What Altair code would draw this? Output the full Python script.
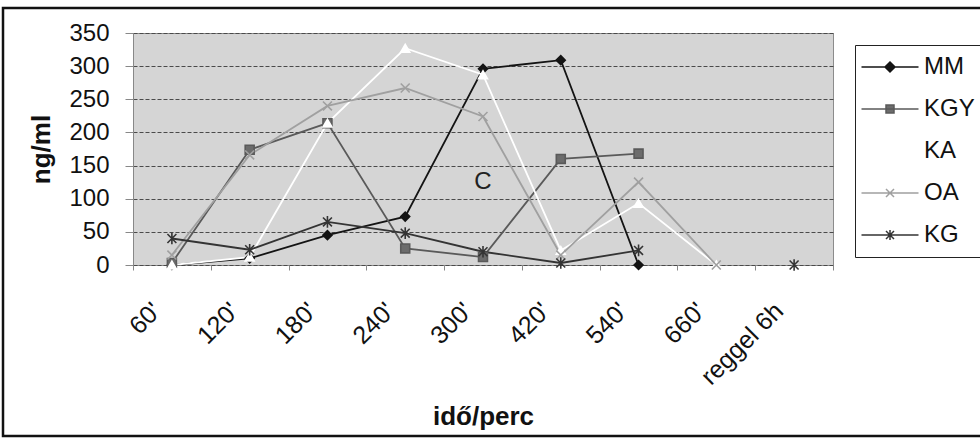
import altair as alt
import pandas as pd

categories = ["60'", "120'", "180'", "240'", "300'", "420'", "540'", "660'", "reggel 6h"]
series_names = ["MM", "KGY", "KA", "OA", "KG"]
mm = [0, 10, 45, 73, 296, 309, 0, None, None]
kgy = [3, 174, 214, 25, 12, 160, 168, None, None]
ka = [0, 12, 214, 327, 287, 22, 93, 0, None]
oa = [15, 166, 240, 267, 224, 15, 125, 0, None]
kg = [40, 23, 65, 48, 20, 3, 22, None, 0]
y_ticks = [0, 50, 100, 150, 200, 250, 300, 350]
annotation_text = ["C"]
annotation_cat = ["300'"]
annotation_val = [125]

line_colors = ["#141414", "#5a5a5a", "#ffffff", "#a0a0a0", "#343434"]
marker_fills = ["#141414", "#6c6c6c", "#ffffff", "transparent", "transparent"]
marker_shapes = [
    "diamond",
    "square",
    "triangle-up",
    "M-1,-1L1,1M-1,1L1,-1",
    "M-1,-1L1,1M-1,1L1,-1M0,-1.3L0,1.3",
]
legend_shapes = [
    "M-5.7,0L5.7,0M0,-1L1,0L0,1L-1,0Z",
    "M-5.7,0L5.7,0M-0.8,-0.8L0.8,-0.8L0.8,0.8L-0.8,0.8Z",
    "M-5.7,0L5.7,0M0,-1L1,0.8L-1,0.8Z",
    "M-5.7,0L5.7,0M-0.8,-0.8L0.8,0.8M-0.8,0.8L0.8,-0.8",
    "M-5.7,0L5.7,0M-0.8,-0.8L0.8,0.8M-0.8,0.8L0.8,-0.8M0,-1L0,1",
]

rows = []
for name, vals in zip(series_names, [mm, kgy, ka, oa, kg]):
    seg = 0
    for c, v in zip(categories, vals):
        if v is None:
            seg += 1
            continue
        rows.append({"series": name, "cat": c, "value": v, "seg": f"{name}-{seg}"})
df = pd.DataFrame(rows)
ann = pd.DataFrame({"t": annotation_text, "cat": annotation_cat, "value": annotation_val})

FONT = "Liberation Sans"

x_enc = alt.X(
    "cat:N",
    sort=categories,
    scale=alt.Scale(type="band", domain=categories, paddingInner=0, paddingOuter=0),
    axis=alt.Axis(
        title="idő/perc",
        labelAngle=-45,
        labelFontSize=25,
        labelColor="#111",
        labelOffset=-24,
        labelPadding=28,
        tickBand="extent",
        tickSize=5,
        tickColor="#888",
        domain=False,
        grid=False,
        titleFontSize=26,
        titleFontWeight="bold",
        titleColor="#111",
        titlePadding=14,
    ),
)
y_enc = alt.Y(
    "value:Q",
    scale=alt.Scale(domain=[0, 350], nice=False, zero=True),
    axis=alt.Axis(
        title="ng/ml",
        values=y_ticks,
        labelFontSize=24,
        labelColor="#111",
        tickSize=8,
        tickColor="#888",
        domainColor="#888",
        grid=True,
        gridColor="#4a4a4a",
        gridDash=[4, 2],
        gridWidth=1,
        labelPadding=16,
        titleFontSize=26,
        titleFontWeight="bold",
        titleColor="#111",
        titlePadding=14,
    ),
)

lines = alt.Chart(df).mark_line(strokeWidth=1.8).encode(
    x=x_enc,
    y=y_enc,
    color=alt.Color("series:N", scale=alt.Scale(domain=series_names, range=line_colors), legend=None),
    detail="seg:N",
)

points = alt.Chart(df).mark_point(filled=False, size=80, strokeWidth=1.6, opacity=1).encode(
    x=x_enc,
    y=y_enc,
    shape=alt.Shape("series:N", scale=alt.Scale(domain=series_names, range=marker_shapes), legend=None),
    stroke=alt.Stroke("series:N", scale=alt.Scale(domain=series_names, range=line_colors), legend=None),
    fill=alt.Fill("series:N", scale=alt.Scale(domain=series_names, range=marker_fills), legend=None),
)

legend_layer = (
    alt.Chart(df)
    .transform_filter("datum.value < -1000")
    .mark_point(filled=False, size=100, strokeWidth=1.5, opacity=1)
    .encode(
        x=x_enc,
        y=y_enc,
        shape=alt.Shape("series:N", scale=alt.Scale(domain=series_names, range=legend_shapes),
                        legend=alt.Legend(title=None)),
        stroke=alt.Stroke("series:N", scale=alt.Scale(domain=series_names, range=line_colors),
                          legend=alt.Legend(title=None)),
        fill=alt.Fill("series:N", scale=alt.Scale(domain=series_names, range=marker_fills),
                      legend=alt.Legend(title=None)),
    )
)

text_layer = alt.Chart(ann).mark_text(fontSize=24, color="#222", font=FONT).encode(
    x=x_enc, y=y_enc, text="t:N"
)

frame = alt.Chart(pd.DataFrame({"k": [0]})).mark_rect(
    fillOpacity=0, stroke="#111", strokeWidth=2.5
).encode(
    x=alt.value(-130), x2=alt.value(870), y=alt.value(-25), y2=alt.value(403)
)

chart = (
    alt.layer(lines, points, legend_layer, text_layer, frame)
    .resolve_scale(shape="independent", stroke="independent", fill="independent")
    .properties(
        width=700,
        height=232,
        autosize=alt.AutoSizeParams(type="none"),
        padding={"left": 133, "top": 33, "right": 147, "bottom": 173},
        background="white",
    )
    .configure(font=FONT)
    .configure_view(fill="#d5d5d5", stroke="#8c8c8c", strokeWidth=1)
    .configure_legend(
        orient="none",
        legendX=722,
        legendY=12,
        padding=10,
        strokeColor="#222",
        fillColor="white",
        labelFontSize=24,
        labelColor="#111",
        labelFont=FONT,
        symbolSize=100,
        symbolStrokeWidth=1.5,
        symbolOffset=13,
        labelOffset=22,
        rowPadding=18,
    )
)

chart.save("out.html", embed_options={"renderer": "svg", "actions": False})
